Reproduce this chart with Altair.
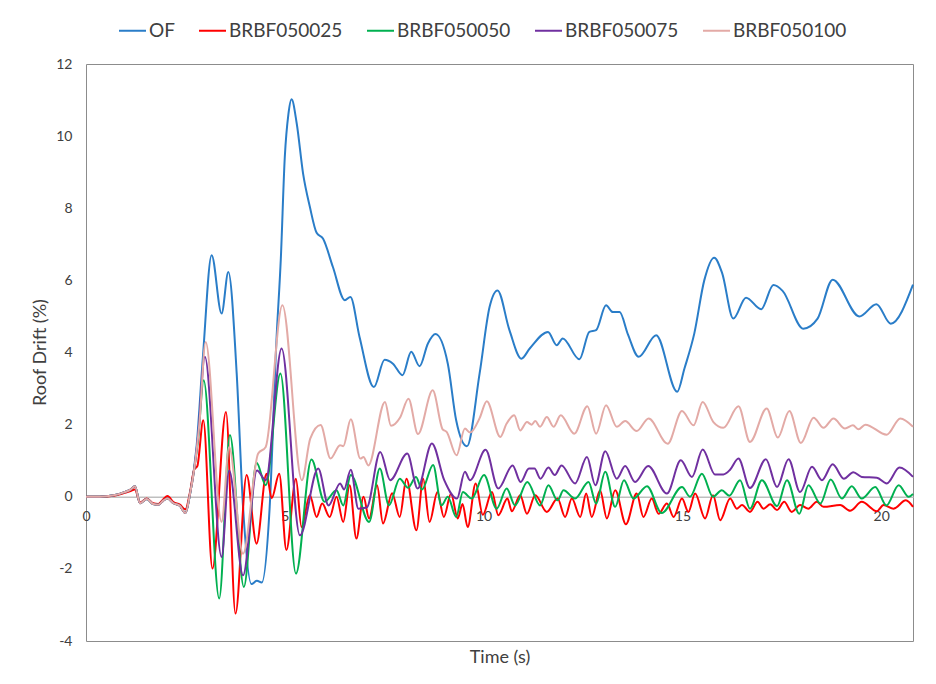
import altair as alt
import pandas as pd

# ---------------- data ----------------
series_names = ["OF", "BRBF050025", "BRBF050050", "BRBF050075", "BRBF050100"]
series_colors = ["#2A7DC8", "#FF0000", "#00B050", "#7030A0", "#E3AAA6"]

early_t = [0, 0.35, 0.7, 0.95, 1.12, 1.23, 1.36, 1.53, 1.69, 1.82, 1.95, 2.05, 2.2, 2.36, 2.5]
early_v = [0, 0, 0.04, 0.12, 0.2, 0.29, -0.18, -0.06, -0.2, -0.22, -0.1, -0.05, -0.18, -0.25, -0.45]
early_red_v = [0, 0, 0.03, 0.1, 0.16, 0.2, -0.16, -0.05, -0.18, -0.2, -0.06, 0.02, -0.15, -0.22, -0.35]

of_t = [2.62, 2.78, 2.94, 3.16, 3.41, 3.58, 3.79, 3.95, 4.16, 4.3, 4.42, 4.62, 4.79, 4.9, 5.0, 5.09,
        5.17, 5.3, 5.46, 5.63, 5.8, 5.96, 6.21, 6.51, 6.65, 6.88, 7.24, 7.51, 7.72, 7.96, 8.18, 8.39,
        8.6, 8.79, 9.1, 9.31, 9.58, 9.9, 10.15, 10.35, 10.65, 10.95, 11.16, 11.62, 11.84, 11.99, 12.41,
        12.66, 12.83, 13.08, 13.25, 13.42, 13.63, 13.9, 14.34, 14.87, 15.05, 15.3, 15.55, 15.8, 16.0,
        16.28, 16.6, 16.98, 17.29, 17.52, 18.04, 18.4, 18.78, 19.45, 19.88, 20.24, 20.8]
of_v = [0.1, 1.38, 3.87, 6.70, 5.08, 6.23, 3.42, -0.28, -2.42, -2.33, -2.38, -0.28, 4.34, 6.6, 9.42, 10.6,
        11.02, 10.35, 8.96, 8.04, 7.32, 7.16, 6.37, 5.45, 5.54, 4.43, 3.04, 3.80, 3.69, 3.37, 4.02, 3.62,
        4.25, 4.51, 3.69, 2.12, 1.40, 3.42, 5.26, 5.72, 4.62, 3.83, 4.11, 4.57, 4.20, 4.39, 3.81,
        4.57, 4.62, 5.31, 5.12, 5.12, 4.50, 3.88, 4.48, 2.91, 3.55, 4.53, 6.0, 6.63, 6.2,
        4.94, 5.52, 5.20, 5.87, 5.71, 4.66, 4.94, 6.02, 5.00, 5.34, 4.80, 5.88]

r25_t = [2.62, 2.72, 2.8, 2.95, 3.18, 3.52, 3.76, 4.04, 4.29, 4.54, 4.67, 4.86, 5.04, 5.28, 5.42,
         5.63, 5.8, 5.94, 6.13, 6.3, 6.47, 6.63, 6.8, 6.98, 7.12, 7.32, 7.47, 7.7, 7.89, 8.06, 8.31,
         8.48, 8.64, 8.84, 9.0, 9.18, 9.35, 9.47, 9.6, 9.8, 9.98, 10.21, 10.37, 10.6, 10.71, 10.92,
         11.09, 11.3, 11.59, 11.86, 12.05, 12.22, 12.43, 12.58, 12.72, 12.93, 13.1, 13.31, 13.58,
         13.85, 14.02, 14.23, 14.4, 14.61, 14.78, 14.99, 15.15, 15.32, 15.57, 15.77, 15.95, 16.2,
         16.37, 16.5, 16.7, 16.89, 17.04, 17.21, 17.38, 17.56, 17.75, 17.96, 18.17, 18.38, 18.55,
         18.97, 19.22, 19.51, 19.89, 20.06, 20.31, 20.62, 20.8]
r25_v = [0.15, 0.75, 0.85, 2.12, -1.99, 2.35, -3.24, 0.60, -1.30, 0.64, -0.04, 0.64, -1.48, 0.50, -0.84,
         0.04, -0.56, -0.19, -0.56, 0.0, -0.70, 0.32, -1.16, 0.0, -0.6, 0.32, -0.74, 0.1, -0.56, 0.5, -0.93,
         0.5, -0.7, 0.13, -0.56, 0.08, -0.6, -0.2, -0.84, 0.37, -0.5, 0.13, -0.51, -0.05, -0.4, 0.04,
         -0.47, 0.04, -0.42, -0.05, -0.56, -0.05, -0.56, 0.09, -0.56, 0.18, -0.6, 0.18, -0.76,
         0.09, -0.56, -0.05, -0.47, -0.19, -0.56, -0.05, -0.42, 0.09, -0.6, 0.04, -0.65, -0.05,
         -0.33, -0.23, -0.42, -0.14, -0.33, -0.21, -0.37, -0.14, -0.42, -0.23, -0.33, -0.14, -0.28,
         -0.23, -0.39, -0.14, -0.4, -0.23, -0.33, -0.1, -0.28]

g50_t = [2.62, 2.72, 2.82, 2.96, 3.35, 3.62, 3.97, 4.29, 4.52, 4.89, 5.28, 5.67, 6.0, 6.3, 6.47, 6.66,
         7.12, 7.39, 7.62, 7.89, 8.1, 8.3, 8.45, 8.73, 8.94, 9.1, 9.31, 9.48, 9.7, 10.01, 10.33, 10.58,
         10.79, 11.1, 11.42, 11.63, 11.86, 12.01, 12.3, 12.64, 12.83, 13.06, 13.31, 13.53, 13.77,
         14.11, 14.48, 14.99, 15.19, 15.49, 15.77, 15.99, 16.18, 16.45, 16.7, 17.0, 17.38, 17.63,
         17.94, 18.17, 18.47, 18.73, 19.01, 19.26, 19.51, 19.85, 20.13, 20.44, 20.69, 20.8]
g50_v = [0.1, 0.75, 1.6, 3.23, -2.82, 1.71, -2.50, 0.94, 0.32, 3.42, -2.13, 1.03, -0.14, 0.18, -0.24, 0.60,
         -0.70, 0.78, -0.24, 0.5, 0.25, 0.55, 0.2, 0.88, -0.24, 0.0, -0.56, 0.13, -0.05, 0.60, -0.33, 0.23,
         -0.24, 0.41, -0.24, 0.32, -0.1, 0.18, -0.05, 0.41, -0.19, 0.69, -0.28, 0.46, -0.05,
         0.29, -0.45, 0.27, 0.0, 0.64, 0.0, 0.18, 0.03, 0.46, -0.33, 0.46, -0.26, 0.46,
         -0.47, 0.32, -0.19, 0.48, -0.05, 0.29, -0.05, 0.27, -0.24, 0.32, 0.0, 0.08]

p75_t = [2.62, 2.72, 2.82, 2.99, 3.41, 3.60, 3.95, 4.30, 4.52, 4.92, 5.38, 5.84, 6.10, 6.39, 6.49, 6.66,
         6.85, 7.06, 7.40, 7.65, 8.08, 8.34, 8.70, 9.01, 9.33, 9.53, 9.66, 10.05, 10.37, 10.73, 10.93,
         11.14, 11.28, 11.43, 11.63, 11.79, 11.96, 12.30, 12.60, 12.81, 13.06, 13.35, 13.56, 13.81,
         14.14, 14.61, 14.96, 15.24, 15.51, 15.82, 16.03, 16.2, 16.41, 16.70, 17.1, 17.38, 17.67,
         17.96, 18.26, 18.51, 18.78, 19.06, 19.3, 19.51, 19.89, 20.14, 20.46, 20.8]
p75_v = [0.1, 0.75, 1.7, 3.88, -1.67, 0.73, -2.18, 0.73, 0.46, 4.11, -1.07, 0.78, -0.24, 0.37, 0.2, 0.75,
         -0.33, -0.3, 1.24, 0.46, 1.20, 0.23, 1.48, 0.46, -0.05, 0.69, 0.46, 1.30, 0.23, 0.87, 0.41,
         0.78, 0.78, 0.5, 0.81, 0.6, 0.87, 0.37, 1.10, 0.32, 1.26, 0.50, 0.85, 0.41,
         0.85, 0.09, 1.01, 0.55, 1.31, 0.62, 0.62, 0.75, 1.06, 0.24, 1.04, 0.27, 1.04,
         0.13, 0.83, 0.46, 0.90, 0.5, 0.68, 0.55, 0.53, 0.37, 0.81, 0.55]

k100_t = [2.62, 2.72, 2.85, 3.01, 3.41, 3.60, 3.95, 4.33, 4.52, 4.94, 5.43, 5.64, 5.90, 6.15, 6.39,
          6.47, 6.66, 6.90, 6.98, 7.10, 7.52, 7.67, 7.90, 8.11, 8.35, 8.72, 8.97, 9.07, 9.32, 9.53,
          9.66, 9.90, 10.08, 10.42, 10.58, 10.77, 10.92, 11.09, 11.21, 11.30, 11.42, 11.59, 11.76,
          11.94, 12.28, 12.61, 12.83, 13.08, 13.35, 13.56, 13.85, 14.15, 14.63, 14.99, 15.28,
          15.51, 15.78, 16.03, 16.41, 16.70, 17.12, 17.40, 17.69, 17.98, 18.30, 18.55, 18.80,
          19.09, 19.29, 19.43, 19.60, 20.14, 20.48, 20.8]
k100_v = [0.1, 0.75, 2.0, 4.29, -0.70, 1.38, -1.58, 1.20, 1.38, 5.31, 0.46, 1.61, 1.99, 1.06, 1.43,
          1.40, 2.15, 1.06, 1.10, 0.87, 2.63, 1.97, 2.20, 2.72, 1.74, 2.95, 1.87, 1.80, 1.15, 1.89,
          1.78, 2.18, 2.65, 1.66, 2.03, 2.26, 1.84, 2.07, 2.00, 2.10, 1.94, 2.21, 1.94,
          2.26, 1.75, 2.51, 1.75, 2.54, 1.94, 2.10, 1.82, 2.17, 1.47, 2.38, 1.98,
          2.63, 2.07, 1.91, 2.51, 1.52, 2.45, 1.64, 2.38, 1.49, 2.19, 1.91, 2.17,
          1.89, 1.98, 1.87, 2.00, 1.72, 2.17, 1.94]

y_ticks = [-4, -2, 0, 2, 4, 6, 8, 10, 12]
x_ticks = [0, 5, 10, 15, 20]

# ---------------- build long table ----------------
rows = []
def add(name, ts, vs):
    for t, v in zip(ts, vs):
        rows.append({"series": name, "t": t, "v": v})

add("OF", early_t + of_t, early_v + of_v)
add("BRBF050025", early_t + r25_t, early_red_v + r25_v)
add("BRBF050050", early_t + g50_t, early_v + g50_v)
add("BRBF050075", early_t + p75_t, early_v + p75_v)
add("BRBF050100", early_t + k100_t, early_v + k100_v)
df = pd.DataFrame(rows)

W, H = 827, 577
FONT = "Lato"
TXT = "#404040"

chart = alt.Chart(df).mark_line(strokeWidth=2, interpolate="monotone").encode(
    x=alt.X("t:Q",
            scale=alt.Scale(domain=[0, 20.8], nice=False, zero=False),
            axis=alt.Axis(values=x_ticks, offset=-H * 4 / 16, title="Time (s)",
                          titleY=161, titleBaseline="middle", ticks=False,
                          labelPadding=13, domainColor="#BFBFBF", domainWidth=1.5,
                          grid=False, labelExpr="'' + datum.value", labelFontSize=14,
                          labelFlush=False)),
    y=alt.Y("v:Q",
            scale=alt.Scale(domain=[-4, 12], nice=False),
            axis=alt.Axis(values=y_ticks, title="Roof Drift (%)", ticks=False, domain=False,
                          grid=False, labelPadding=14, labelExpr="'' + datum.value",
                          labelFontSize=14, titleX=-46, titleY=288, titleAngle=270,
                          titleAlign="center", titleBaseline="middle")),
    color=alt.Color("series:N",
                    scale=alt.Scale(domain=series_names, range=series_colors),
                    legend=alt.Legend(title=None, orient="none", direction="horizontal",
                                      legendX=32, legendY=-48, symbolType="stroke",
                                      symbolStrokeWidth=2, symbolSize=729,
                                      labelFontSize=19, labelFont=FONT, labelColor=TXT,
                                      columnPadding=20, labelOffset=2, padding=0)),
).properties(
    width=W, height=H,
    padding={"left": 78, "top": 56, "right": 15, "bottom": 35},
    autosize=alt.AutoSizeParams(type="none"),
).configure_view(
    stroke="#8C8C8C", strokeWidth=1
).configure_axis(
    labelFont=FONT, titleFont=FONT, labelColor=TXT, titleColor=TXT,
    titleFontWeight="normal", titleFontSize=18
)

chart.save("out.html", embed_options={"renderer": "svg", "actions": False})
